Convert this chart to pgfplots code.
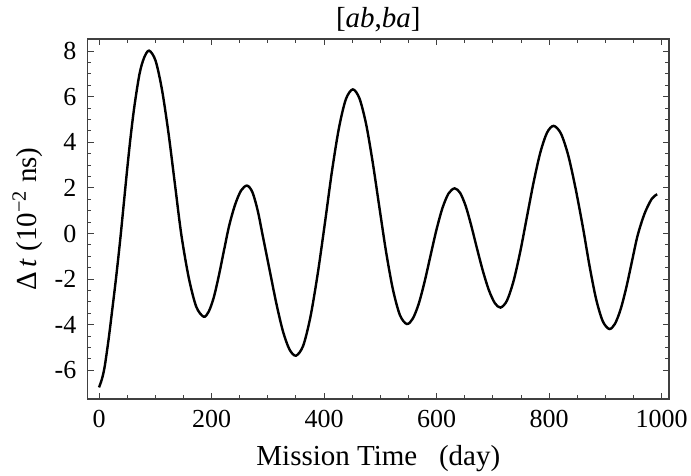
\documentclass[border=0pt]{standalone}
\usepackage{pgfplots}
\pgfplotsset{compat=1.18}
\usepackage{fontspec}
\setmainfont{Liberation Serif}
\begin{document}
\begin{tikzpicture}
\begin{axis}[
  scale only axis, width=290.65pt, height=180pt,
  xmin=-20.1, xmax=1013, ymin=-7.26, ymax=8.53,
  xtick={0,200,...,1000}, ytick={-6,-4,...,8},
  minor x tick num=3, minor y tick num=3,
  tick align=inside,
  major tick length=3pt, minor tick length=1.8pt,
  axis line style={draw=black!75, line width=0.55pt},
  every tick/.style={black!75, line width=0.5pt},
  /pgf/number format/assume math mode=true,
  /pgf/number format/1000 sep={},
  tick label style={font=\fontsize{13}{15}\selectfont},
  xticklabel style={inner sep=0pt, anchor=north, yshift=-5.5pt},
  yticklabel style={inner sep=0pt, anchor=east, xshift=-5.5pt},
  xlabel={Mission Time\hspace{0.75em}(day)},
  ylabel={Δ\,\textit{t} (10\textsuperscript{−2} ns)},
  xlabel style={font=\fontsize{14.5}{17}\selectfont, at={(axis description cs:0.5,-0.1833)}, anchor=base, inner sep=0pt},
  ylabel style={font=\fontsize{14.5}{17}\selectfont, at={(axis description cs:-0.1036,0.5)}, anchor=center, inner sep=0pt},
  every axis title shift=0pt,
  title={[\textit{ab},\textit{ba}]},
  title style={font=\fontsize{14.5}{17}\selectfont, at={(axis description cs:0.5,1.0306)}, anchor=base, inner sep=0pt, yshift=0pt},
]
\addplot[black, line width=1.2pt, smooth] coordinates {
(0,-6.75) (5,-6.4) (10,-5.85) (17,-4.65) (24,-3.25) (31,-1.8) (38,-0.2) (44,1.3) (50,2.8) (56,4.2) (63,5.6) (72,7.0) (80,7.7) (89,8.02)
(100.5,7.58) (111.9,6.31) (123.4,4.42) (134.8,2.19) (146.3,-0.05) (159.5,-1.94) (172.8,-3.21) (186,-3.65)
(194.9,-3.43) (203.9,-2.81) (212.8,-1.87) (221.8,-0.78) (231.2,0.33) (241.8,1.26) (252.4,1.88) (263,2.10)
(272.5,1.82) (282,1.01) (291.8,-0.20) (303.4,-1.63) (315.1,-3.06) (326.7,-4.27) (338.4,-5.08) (350,-5.36)
(362.9,-4.92) (375.8,-3.65) (388.8,-1.75) (401.6,0.48) (413.9,2.71) (426.3,4.61) (438.6,5.88) (451,6.32)
(462.8,5.93) (474.6,4.81) (486.3,3.14) (498.1,1.18) (510.1,-0.79) (522.4,-2.46) (534.8,-3.58) (547,-3.97)
(557.5,-3.74) (568,-3.10) (578.5,-2.13) (588.9,-1.00) (599.5,0.14) (610.3,1.11) (621.1,1.75) (632,1.98)
(641.8,1.78) (651.6,1.21) (661.3,0.37) (671.6,-0.64) (682.2,-1.64) (692.8,-2.48) (703.4,-3.05) (713.5,-3.25)
(724.9,-2.95) (736.8,-2.08) (748.7,-0.79) (760.6,0.74) (772.5,2.26) (784.3,3.55) (796.2,4.42) (808,4.72)
(821,4.38) (834,3.42) (847,1.97) (860,0.27) (871.9,-1.44) (883.6,-2.89) (895.3,-3.85) (907,-4.19)
(917,-3.96) (927.1,-3.32) (937.2,-2.36) (947.2,-1.22) (957.3,-0.08) (969.7,0.88) (982.4,1.52) (992,1.72)
};
\end{axis}
\pgfresetboundingbox
\path[use as bounding box] ([xshift=-43.85pt,yshift=-38pt]current axis.south west) rectangle ([xshift=11pt,yshift=19.5pt]current axis.north east);
\end{tikzpicture}
\end{document}
